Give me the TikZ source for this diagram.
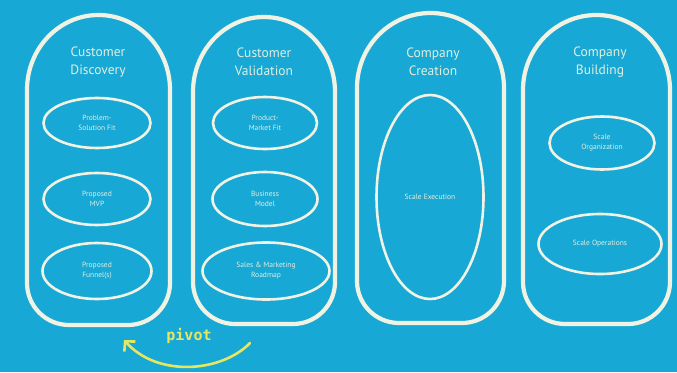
\documentclass[tikz,border=0pt]{standalone}
\usepackage{fontspec}
\setmainfont{PT Sans}
\newfontfamily\pivotfont{DejaVu Sans Mono}
\usetikzlibrary{shapes.geometric,arrows.meta}
\definecolor{bgblue}{RGB}{24,168,213}
\definecolor{chalk}{RGB}{240,242,228}
\definecolor{chalktext}{RGB}{226,238,222}
\definecolor{pivotyellow}{RGB}{232,230,96}
\tikzset{
  outerline/.style={draw=chalk,line width=4.2pt,line join=round},
  innerbox/.style={ellipse,draw=chalk,line width=2.6pt,inner sep=0pt,
    text=chalktext,font=\fontsize{7.5}{10}\selectfont,align=center},
  titletext/.style={text=chalktext,font=\fontsize{13.5}{18}\selectfont,align=center},
  pivotarrow/.style={draw=pivotyellow,line width=2.6pt,line cap=round,
    -{Straight Barb[length=7pt,width=15pt,line width=2.6pt]}},
}
\newcommand{\capsule}[4]{% xL xR yTop yBottom
  \pgfmathsetmacro{\xc}{(#1+#2)/2}
  \pgfmathsetmacro{\rx}{(#2-#1)/2}
  \pgfmathsetmacro{\ys}{#3+75}
  \pgfmathsetmacro{\ya}{\ys-0.5523*75}
  \pgfmathsetmacro{\xa}{\xc-0.5523*\rx}
  \pgfmathsetmacro{\xb}{\xc+0.5523*\rx}
  \pgfmathsetmacro{\yr}{#4-42}
  \pgfmathsetmacro{\yq}{#4-42+0.5523*42}
  \pgfmathsetmacro{\xl}{#1+42}
  \pgfmathsetmacro{\xlq}{#1+42-0.5523*42}
  \pgfmathsetmacro{\xr}{#2-42}
  \pgfmathsetmacro{\xrq}{#2-42+0.5523*42}
  \draw[outerline] (#1,\ys) .. controls (#1,\ya) and (\xa,#3) .. (\xc,#3)
    .. controls (\xb,#3) and (#2,\ya) .. (#2,\ys) -- (#2,\yr)
    .. controls (#2,\yq) and (\xrq,#4) .. (\xr,#4) -- (\xl,#4)
    .. controls (\xlq,#4) and (#1,\yq) .. (#1,\yr) -- cycle;
}
\begin{document}
\begin{tikzpicture}[x=1pt,y=-1pt]
\fill[bgblue] (0,0) rectangle (677,372);
\useasboundingbox (0,0) rectangle (677,372);

\capsule{27}{170}{15}{325}
\capsule{193}{335}{17}{324}
\capsule{357}{504}{13}{323}
\capsule{523}{670}{15}{324}

\node[titletext] (t1) at (98,62) {Customer\\Discovery};
\node[titletext] (t2) at (264,62) {Customer\\Validation};
\node[titletext] (t3) at (433,62) {Company\\Creation};
\node[titletext] (t4) at (600,62) {Company\\Building};

\node[innerbox,minimum width=107pt,minimum height=50pt] (psf) at (97,123) {Problem-\\Solution Fit};
\node[innerbox,minimum width=107pt,minimum height=52pt] (mvp) at (97,199) {Proposed\\MVP};
\node[innerbox,minimum width=109pt,minimum height=56pt] (fun) at (97,271) {Proposed\\Funnel(s)};

\node[innerbox,minimum width=104pt,minimum height=52pt] (pmf) at (265,123) {Product-\\Market Fit};
\node[innerbox,minimum width=105pt,minimum height=54pt] (bm) at (265,199) {Business\\Model};
\node[innerbox,minimum width=127pt,minimum height=57pt] (smr) at (266,271) {Sales \& Marketing\\Roadmap};

\node[innerbox,minimum width=107pt,minimum height=204pt] (se) at (430,197) {Scale Execution};

\node[innerbox,minimum width=105pt,minimum height=53pt] (so) at (602,143) {Scale\\Organization};
\node[innerbox,minimum width=123pt,minimum height=60pt] (sop) at (600,244) {Scale Operations};

\node[text=pivotyellow,font=\pivotfont\bfseries\fontsize{15}{18}\selectfont] (pv) at (189,336) {pivot};
\coordinate (pstart) at (250,343);
\coordinate (pend) at (124,340);
\draw[pivotarrow] (pstart) .. controls (222,372) and (158,378) .. (pend);
\end{tikzpicture}
\end{document}
